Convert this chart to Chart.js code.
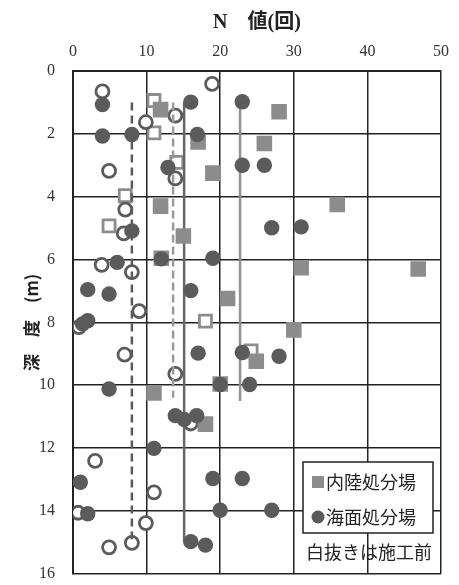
<!DOCTYPE html>
<html lang="ja">
<head>
<meta charset="utf-8">
<title>N値と深度</title>
<script src="https://cdn.jsdelivr.net/npm/chart.js@4/dist/chart.umd.min.js"></script>
<style>
    html, body { margin: 0; padding: 0; background: #fff; }
    #wrap { position: relative; width: 459px; height: 585px; }
</style>
</head>
<body>
<div id="wrap"><canvas id="nChart" width="459" height="585"></canvas></div>
<script>
// 海面処分場（施工後）
const seaAfterN     = [4.0, 16.0, 23.0, 4.0, 8.0, 16.9, 12.9, 23.0, 26.0, 8.0, 27.0, 31.0, 6.0, 12.0, 19.0, 2.0, 4.9, 16.0, 1.3, 2.0, 17.0, 23.0, 28.0, 4.9, 20.0, 24.0, 13.9, 15.1, 16.8, 11.0, 1.0, 19.0, 23.0, 2.0, 20.0, 27.0, 16.0, 18.0];
const seaAfterDepth = [1.07, 0.99, 0.98, 2.07, 2.02, 2.02, 3.07, 3.0, 3.0, 5.09, 4.99, 4.96, 6.09, 5.98, 5.96, 6.96, 7.10, 6.99, 8.05, 7.95, 8.98, 8.96, 9.08, 10.12, 9.98, 9.98, 10.97, 11.09, 10.97, 12.01, 13.09, 12.97, 12.97, 14.09, 13.98, 13.98, 14.98, 15.09];

// 海面処分場（施工前・白抜き）
const seaBeforeN     = [4.0, 18.9, 13.9, 9.9, 4.9, 13.9, 7.1, 6.9, 3.9, 8.0, 9.0, 0.8, 7.0, 13.9, 16.0, 3.0, 11.0, 0.7, 9.9, 8.0, 4.9];
const seaBeforeDepth = [0.65, 0.41, 1.42, 1.63, 3.18, 3.42, 4.41, 5.17, 6.17, 6.40, 7.64, 8.15, 9.03, 9.64, 11.22, 12.41, 13.41, 14.06, 14.39, 15.02, 15.16];

// 内陸処分場（施工後）
const inlandAfterN     = [11.9, 28.0, 17.0, 26.0, 19.0, 11.9, 35.9, 15.0, 12.0, 31.0, 46.9, 21.0, 30.0, 24.9, 11.0, 20.0, 18.0];
const inlandAfterDepth = [1.23, 1.30, 2.26, 2.31, 3.25, 4.30, 4.25, 5.25, 5.96, 6.26, 6.30, 7.24, 8.24, 9.24, 10.25, 9.96, 11.24];

// 内陸処分場（施工前・白抜き）
const inlandBeforeN     = [11.0, 11.0, 14.1, 7.1, 4.9, 18.0, 24.2];
const inlandBeforeDepth = [0.94, 1.97, 2.91, 3.97, 4.93, 7.96, 8.91];

// 平均N値の縦線: [N値, 上端深度, 下端深度]
const seaBeforeMean    = [8.0, 1.0, 14.9];
const inlandBeforeMean = [13.6, 1.0, 10.4];
const seaAfterMean     = [15.1, 1.0, 15.0];
const inlandAfterMean  = [22.7, 1.0, 10.5];

const nTicks = [0, 10, 20, 30, 40, 50];
const depthTicks = [0, 2, 4, 6, 8, 10, 12, 14, 16];

const DARK = '#5b5b5b';
const LIGHT = '#8c8c8c';
const GRID = '#222';
const serif = '"Liberation Serif", "DejaVu Serif", serif';
const jp = '"Noto Sans CJK JP", sans-serif';

function toPoints(xs, ys) {
    return xs.map((x, i) => ({ x: x, y: ys[i] }));
}

function meanLine(m, color, dash, width) {
    return {
        data: [{ x: m[0], y: m[1] }, { x: m[0], y: m[2] }],
        showLine: true,
        borderColor: color,
        borderWidth: width,
        borderDash: dash,
        pointRadius: 0,
        fill: false
    };
}

// 凡例ボックス（右下）
const legendBox = {
    id: 'legendBox',
    afterDraw(chart) {
        const ctx = chart.ctx;
        ctx.save();
        ctx.fillStyle = '#fff';
        ctx.strokeStyle = GRID;
        ctx.lineWidth = 1.5;
        ctx.fillRect(303, 462, 130, 71);
        ctx.strokeRect(303, 462, 130, 71);

        ctx.fillStyle = LIGHT;
        ctx.fillRect(312, 476, 12, 12);
        ctx.fillStyle = DARK;
        ctx.beginPath();
        ctx.arc(318, 517, 6.5, 0, Math.PI * 2);
        ctx.fill();

        ctx.fillStyle = '#222';
        ctx.font = '18px ' + jp;
        ctx.textBaseline = 'middle';
        ctx.textAlign = 'left';
        ctx.fillText('内陸処分場', 326, 482);
        ctx.fillText('海面処分場', 326, 517);
        ctx.fillText('白抜きは施工前', 306, 552);
        ctx.restore();
    }
};

new Chart(document.getElementById('nChart'), {
    type: 'scatter',
    data: {
        datasets: [
            {
                label: '海面処分場',
                data: toPoints(seaAfterN, seaAfterDepth),
                pointStyle: 'circle',
                pointRadius: 7.7,
                backgroundColor: DARK,
                borderWidth: 0
            },
            {
                label: '内陸処分場',
                data: toPoints(inlandAfterN, inlandAfterDepth),
                pointStyle: 'rect',
                pointRadius: 11,
                backgroundColor: LIGHT,
                borderWidth: 0
            },
            meanLine(seaAfterMean, '#666', [], 2.5),
            meanLine(inlandAfterMean, '#929292', [], 2.5),
            meanLine(seaBeforeMean, DARK, [8, 5], 2.5),
            meanLine(inlandBeforeMean, '#9a9a9a', [8, 4], 2.5),
            {
                label: '海面処分場（施工前）',
                data: toPoints(seaBeforeN, seaBeforeDepth),
                pointStyle: 'circle',
                pointRadius: 6.5,
                backgroundColor: '#fff',
                borderColor: DARK,
                borderWidth: 2.8
            },
            {
                label: '内陸処分場（施工前）',
                data: toPoints(inlandBeforeN, inlandBeforeDepth),
                pointStyle: 'rect',
                pointRadius: 8.5,
                backgroundColor: '#fff',
                borderColor: LIGHT,
                borderWidth: 2.8
            }
        ]
    },
    options: {
        responsive: false,
        animation: false,
        events: [],
        layout: { padding: { left: 0, right: 18, top: 0, bottom: 7 } },
        plugins: {
            legend: { display: false },
            tooltip: { enabled: false }
        },
        scales: {
            x: {
                type: 'linear',
                position: 'top',
                min: 0,
                max: 50,
                afterBuildTicks: s => { s.ticks = nTicks.map(v => ({ value: v })); },
                afterFit: s => { s.height = 71; s.paddingLeft = 0; s.paddingRight = 0; },
                ticks: {
                    padding: 10,
                    color: '#333',
                    font: { family: serif, size: 16 }
                },
                grid: { color: GRID, lineWidth: 1.5, drawTicks: false },
                border: { color: GRID, width: 2 },
                title: {
                    display: true,
                    text: 'N　値(回)',
                    color: '#222',
                    font: { family: serif + ', ' + jp, size: 20, weight: 'bold' },
                    padding: { top: 11, bottom: 0 }
                }
            },
            y: {
                type: 'linear',
                reverse: true,
                min: 0,
                max: 16,
                afterBuildTicks: s => { s.ticks = depthTicks.map(v => ({ value: v })); },
                afterFit: s => { s.width = 73; s.paddingTop = 0; s.paddingBottom = 0; },
                ticks: {
                    padding: 18,
                    color: '#333',
                    font: { family: serif, size: 16 }
                },
                grid: { color: GRID, lineWidth: 1.5, drawTicks: false },
                border: { color: GRID, width: 2 },
                title: {
                    display: true,
                    text: '深　度　(m)',
                    color: '#222',
                    font: { family: jp, size: 17, weight: 'bold' },
                    padding: { top: 21, bottom: 0 }
                }
            }
        }
    },
    plugins: [legendBox]
});
</script>
</body>
</html>
